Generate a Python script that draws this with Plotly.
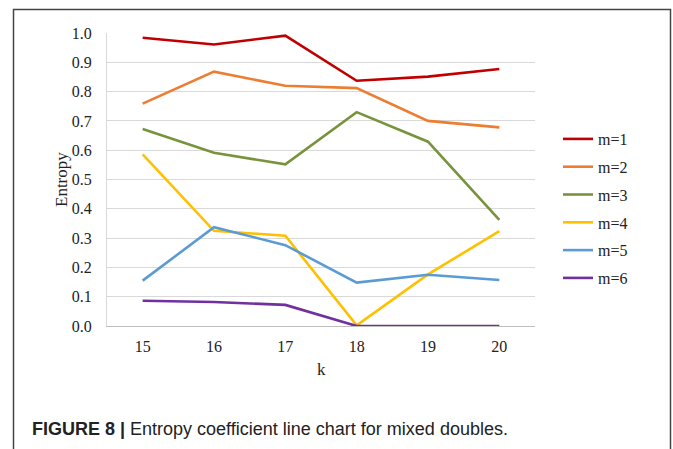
import plotly.graph_objects as go

k_labels = ["15", "16", "17", "18", "19", "20"]
series_names = ["m=1", "m=2", "m=3", "m=4", "m=5", "m=6"]
m1 = [0.984, 0.961, 0.991, 0.837, 0.851, 0.877]
m2 = [0.759, 0.868, 0.820, 0.812, 0.700, 0.678]
m3 = [0.672, 0.591, 0.552, 0.730, 0.629, 0.362]
m4 = [0.586, 0.325, 0.308, 0.002, 0.176, 0.324]
m5 = [0.155, 0.337, 0.276, 0.148, 0.175, 0.157]
m6 = [0.086, 0.082, 0.072, 0.000, 0.000, 0.000]
y_ticks = [0.0, 0.1, 0.2, 0.3, 0.4, 0.5, 0.6, 0.7, 0.8, 0.9, 1.0]
colors = ["#C00000", "#ED7D31", "#77933C", "#FFC000", "#5B9BD5", "#7030A0"]

W, H = 673, 449
L, R, T, B = 107, 535, 33, 326

fig = go.Figure()
for name, vals, c in zip(series_names, [m1, m2, m3, m4, m5, m6], colors):
    fig.add_trace(go.Scatter(x=k_labels, y=vals, mode="lines", name=name,
                             legendgroup=name,
                             line=dict(color=c, width=2.6)))

serif = "Liberation Serif, Times New Roman, serif"

def px_x(p):
    return (p - L) / (R - L)

def px_y(p):
    return (B - p) / (B - T)

fig.update_layout(
    width=W, height=H,
    margin=dict(l=L, r=W - R, t=T, b=H - B, pad=0),
    paper_bgcolor="white", plot_bgcolor="white",
    font=dict(family=serif, size=16, color="#222"),
    showlegend=True,
    legend=dict(x=px_x(558), y=px_y(122), xanchor="left", yanchor="top",
                font=dict(family=serif, size=16, color="#222"),
                tracegroupgap=4, itemwidth=30, bgcolor="rgba(0,0,0,0)"),
    xaxis=dict(type="category", range=[-0.5, 5.5], showgrid=False,
               showline=True, linecolor="#bfbfbf", linewidth=1,
               ticks="", ticklabelstandoff=6,
               tickfont=dict(family=serif, size=16, color="#222")),
    yaxis=dict(range=[0, 1.0], tickvals=y_ticks,
               ticktext=[f"{v:.1f}" for v in y_ticks],
               showgrid=True, gridcolor="#d9d9d9", gridwidth=1,
               showline=True, linecolor="#d9d9d9", linewidth=1,
               zeroline=False, ticks="", ticklabelstandoff=11,
               tickfont=dict(family=serif, size=16, color="#222")),
)

# axis titles
fig.add_annotation(xref="paper", yref="paper", x=px_x(61), y=px_y(180),
                   xanchor="center", yanchor="middle", showarrow=False,
                   textangle=-90, text="Entropy",
                   font=dict(family=serif, size=17, color="#222"))
fig.add_annotation(xref="paper", yref="paper", x=px_x(321), y=px_y(369),
                   xanchor="center", yanchor="middle", showarrow=False,
                   text="k", font=dict(family=serif, size=17, color="#222"))

# outer frame (open at the bottom, runs past the window)
fig.add_shape(type="rect", xref="paper", yref="paper",
              x0=px_x(13.5), x1=px_x(670.5), y0=px_y(480), y1=px_y(9.5),
              line=dict(color="#444", width=1.5), fillcolor="rgba(0,0,0,0)",
              layer="above")

fig.add_annotation(xref="paper", yref="paper", x=px_x(30), y=px_y(429),
                   xanchor="left", yanchor="middle", showarrow=False,
                   text="<b>FIGURE 8 |</b> Entropy coefficient line chart for mixed doubles.",
                   font=dict(family="Liberation Sans, Arial, sans-serif", size=18, color="#222"))

fig.write_html("out.html", config={"displayModeBar": False},
               post_script="document.body.style.margin='0';document.body.style.overflow='hidden';")
